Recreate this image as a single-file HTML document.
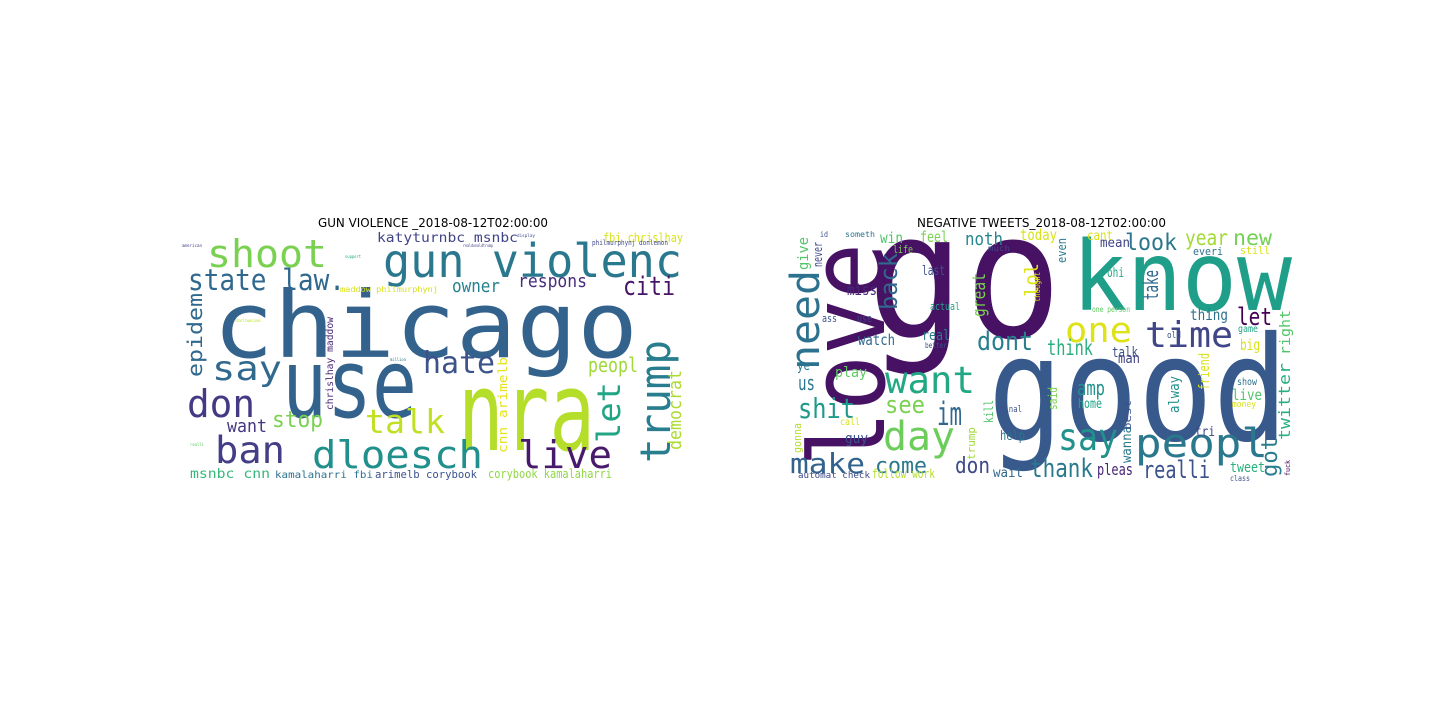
<!DOCTYPE html>
<html><head><meta charset="utf-8"><style>
html,body{margin:0;padding:0;background:#fff;width:1440px;height:720px;overflow:hidden}
svg{display:block}
text.w{font-family:"DejaVu Sans Mono","Liberation Mono",monospace}
text.t{font-family:"DejaVu Sans","Liberation Sans",sans-serif;font-size:12px;fill:#000}
</style></head><body>
<svg id="fig" width="1440" height="720" viewBox="0 0 1440 720">
<rect x="0" y="0" width="1440" height="720" fill="#fff"/>
<text class="t" x="318" y="227" textLength="230" lengthAdjust="spacingAndGlyphs">GUN VIOLENCE _2018-08-12T02:00:00</text>
<text class="t" x="917" y="227" textLength="249" lengthAdjust="spacingAndGlyphs">NEGATIVE TWEETS_2018-08-12T02:00:00</text>
<g id="left"></g>
<g id="right"></g>
</svg>
<script>
// word, x, baseline y, length, font size, color, rotated(1 = -90deg: x is baseline x, y is bottom end)
const leftWords = [
["chicago",213,357,425,92,"#33638d",0],
["use",282,417,135,95,"#33638d",0],
["nra",458,450,137,110,"#b5de2b",0],
["gun violenc",383,277,299,46,"#2a788e",0],
["shoot",207,267,120,38,"#7ad151",0],
["state law.",188,290,157,29,"#31688e",0],
["epidem",202,377,84,20,"#31688e",1],
["say",212,380,70,34,"#31688e",0],
["don",187,417,68,38,"#443983",0],
["ban",215,463,70,37,"#433e85",0],
["dloesch",312,468,171,38,"#21908d",0],
["talk",365,433,80,33,"#c2df23",0],
["stop",272,427,51,22,"#7ad151",0],
["want",227,432,40,18,"#453781",0],
["hate",423,373,72,30,"#3b528b",0],
["live",518,468,94,38,"#481a6c",0],
["trump",670,463,123,42,"#287d8e",1],
["let",620,443,61,32,"#21a585",1],
["democrat",681,450,80,18,"#addc30",1],
["peopl",588,372,50,20,"#a0da39",0],
["citi",623,295,52,26,"#481467",0],
["respons",518,287,69,18,"#472d7b",0],
["owner",452,292,48,18,"#26828e",0],
["katyturnbc msnbc",377,242,141,13,"#414487",0],
["fbi chrislhay",603,242,80,12,"#d8e219",0],
["msnbc cnn",190,478,80,13,"#35b779",0],
["kamalaharri fbi",275,478,98,10,"#2c728e",0],
["arimelb corybook",375,478,102,11,"#3b528b",0],
["corybook kamalaharri",488,478,124,12,"#8fd744",0],
["cnn arimelb",507,453,96,12,"#e5e419",1],
["chrislhay maddow",333,410,93,10,"#482878",1],
["maddow philmurphynj",340,292,98,8,"#d8e219",0],
["philmurphynj donlemon",592,245,76,7,"#3e4989",0],
["realdonaldtrump",463,247,30,4,"#414487",0],
["american",182,247,20,4,"#414487",0],
["million",390,361,16,4,"#2a788e",0],
["realli",190,446,14,4,"#5ec962",0],
["sharltwasjoes",235,322,26,4,"#b5de2b",0],
["display",517,237,18,4,"#3e4989",0],
["support",345,258,16,4,"#22a884",0]
];
const rightWords = [
["go",867,337,195,174,"#471164",0],
["good",988,440,300,145,"#38598c",0],
["know",1072,310,220,96,"#1f9e89",0],
["love",884,467,224,104,"#471164",1],
["need",819,370,100,40,"#2c728e",1],
["give",808,270,33,14,"#52c569",1],
["back",897,310,57,24,"#31688e",1],
["want",885,393,90,37,"#22a884",0],
["shit",798,418,57,28,"#1f9a8a",0],
["day",883,450,72,40,"#6ccd5a",0],
["make",790,473,75,28,"#33638d",0],
["im",937,425,25,32,"#31688e",0],
["see",885,413,40,24,"#7ad151",0],
["come",875,473,52,22,"#2a788e",0],
["don",955,473,35,22,"#3e4a89",0],
["dont",977,350,56,26,"#277f8e",0],
["noth",965,245,38,18,"#25858e",0],
["one",1065,342,67,35,"#dde318",0],
["time",1145,347,88,36,"#404688",0],
["look",1125,250,52,23,"#2a768e",0],
["year",1185,245,43,21,"#a2da37",0],
["new",1233,245,39,21,"#74d055",0],
["say",1058,450,60,37,"#21918c",0],
["peopl",1135,457,133,40,"#2a788e",0],
["thank",1030,477,63,26,"#2a788e",0],
["realli",1143,478,67,24,"#3b528b",0],
["think",1047,355,46,21,"#29af7f",0],
["let",1237,325,35,24,"#440154",0],
["take",1158,300,30,20,"#31688e",1],
["got",1277,477,40,22,"#287d8e",1],
["twitter",1290,440,77,16,"#29af7f",1],
["right",1290,355,45,14,"#52c569",1],
["lol",1038,297,34,19,"#dde318",1],
["great",985,317,44,18,"#7ad151",1],
["amp",1077,395,28,20,"#21918c",0],
["pleas",1097,475,36,16,"#482475",0],
["tweet",1230,472,35,14,"#29af7f",0],
["us",798,390,17,20,"#2a788e",0],
["play",835,377,32,14,"#5ec962",0],
["watch",858,345,37,15,"#31688e",0],
["miss",847,295,30,15,"#482878",0],
["win",880,243,23,15,"#52c569",0],
["feel",920,242,28,15,"#7ad151",0],
["today",1020,240,37,15,"#d8e219",0],
["live",1232,400,30,15,"#52c569",0],
["big",1240,350,20,15,"#d8e219",0],
["thing",1190,320,38,15,"#2c728e",0],
["talk",1112,357,26,14,"#3b528b",0],
["man",1118,363,22,14,"#414487",0],
["guy",845,443,23,14,"#3b528b",0],
["help",1000,440,25,13,"#2c728e",0],
["wait",993,477,30,13,"#31688e",0],
["home",1078,408,24,13,"#20a486",0],
["follow work",872,478,63,12,"#b5de2b",0],
["automat check",798,478,72,9,"#3e4a89",0],
["last",922,275,23,13,"#3b528b",0],
["real",922,340,28,14,"#2a788e",0],
["mean",1100,247,30,13,"#414487",0],
["cant",1087,240,26,13,"#d8e219",0],
["even",1066,263,25,12,"#2a788e",1],
["ohi",1107,277,17,13,"#22a884",0],
["friend",1209,390,37,14,"#d8e219",1],
["alway",1179,413,37,14,"#21918c",1],
["wanna",1131,463,37,13,"#2a788e",1],
["said",1057,410,23,12,"#7ad151",1],
["kill",993,423,23,12,"#52c569",1],
["trump",975,460,33,11,"#a0da39",1],
["gonna",801,453,30,11,"#b5de2b",1],
["never",822,267,25,12,"#3e4a89",1],
["ye",797,370,13,13,"#2a788e",0],
["actual",930,310,30,11,"#20a486",0],
["ass",822,322,15,11,"#3b528b",0],
["use",857,322,15,11,"#414487",0],
["life",893,253,20,11,"#7ad151",0],
["everi",1193,255,30,11,"#2c728e",0],
["still",1240,254,30,11,"#d8e219",0],
["game",1238,332,20,10,"#20a486",0],
["best",1131,430,30,10,"#3b528b",1],
["show",1237,385,20,10,"#2c728e",0],
["tri",1195,436,20,13,"#414487",0],
["final",1000,412,22,9,"#3b528b",0],
["call",840,425,20,10,"#d8e219",0],
["money",1232,407,24,9,"#d8e219",0],
["much",988,251,22,8,"#414487",0],
["old",1167,338,14,9,"#3b528b",0],
["class",1230,481,20,8,"#3b528b",0],
["someth",845,237,30,8,"#2c728e",0],
["id",820,237,8,8,"#3b528b",0],
["fuck",1290,476,16,7,"#440154",1],
["better",925,348,22,8,"#3b528b",0],
["one person",1092,312,38,8,"#5ec962",0],
["thought",1040,302,30,8,"#d8e219",1]
];
const NS = "http://www.w3.org/2000/svg";
function draw(gid, words) {
  const g = document.getElementById(gid);
  words.forEach(function (w) {
    const t = document.createElementNS(NS, "text");
    t.setAttribute("class", "w");
    t.setAttribute("x", w[1]);
    t.setAttribute("y", w[2]);
    t.setAttribute("font-size", w[4]);
    t.setAttribute("fill", w[5]);
    t.setAttribute("textLength", w[3]);
    t.setAttribute("lengthAdjust", "spacingAndGlyphs");
    if (w[6]) t.setAttribute("transform", "rotate(-90 " + w[1] + " " + w[2] + ")");
    t.textContent = w[0];
    
    
    g.appendChild(t);
  });
}
draw("left", leftWords);
draw("right", rightWords);
</script>
</body></html>
